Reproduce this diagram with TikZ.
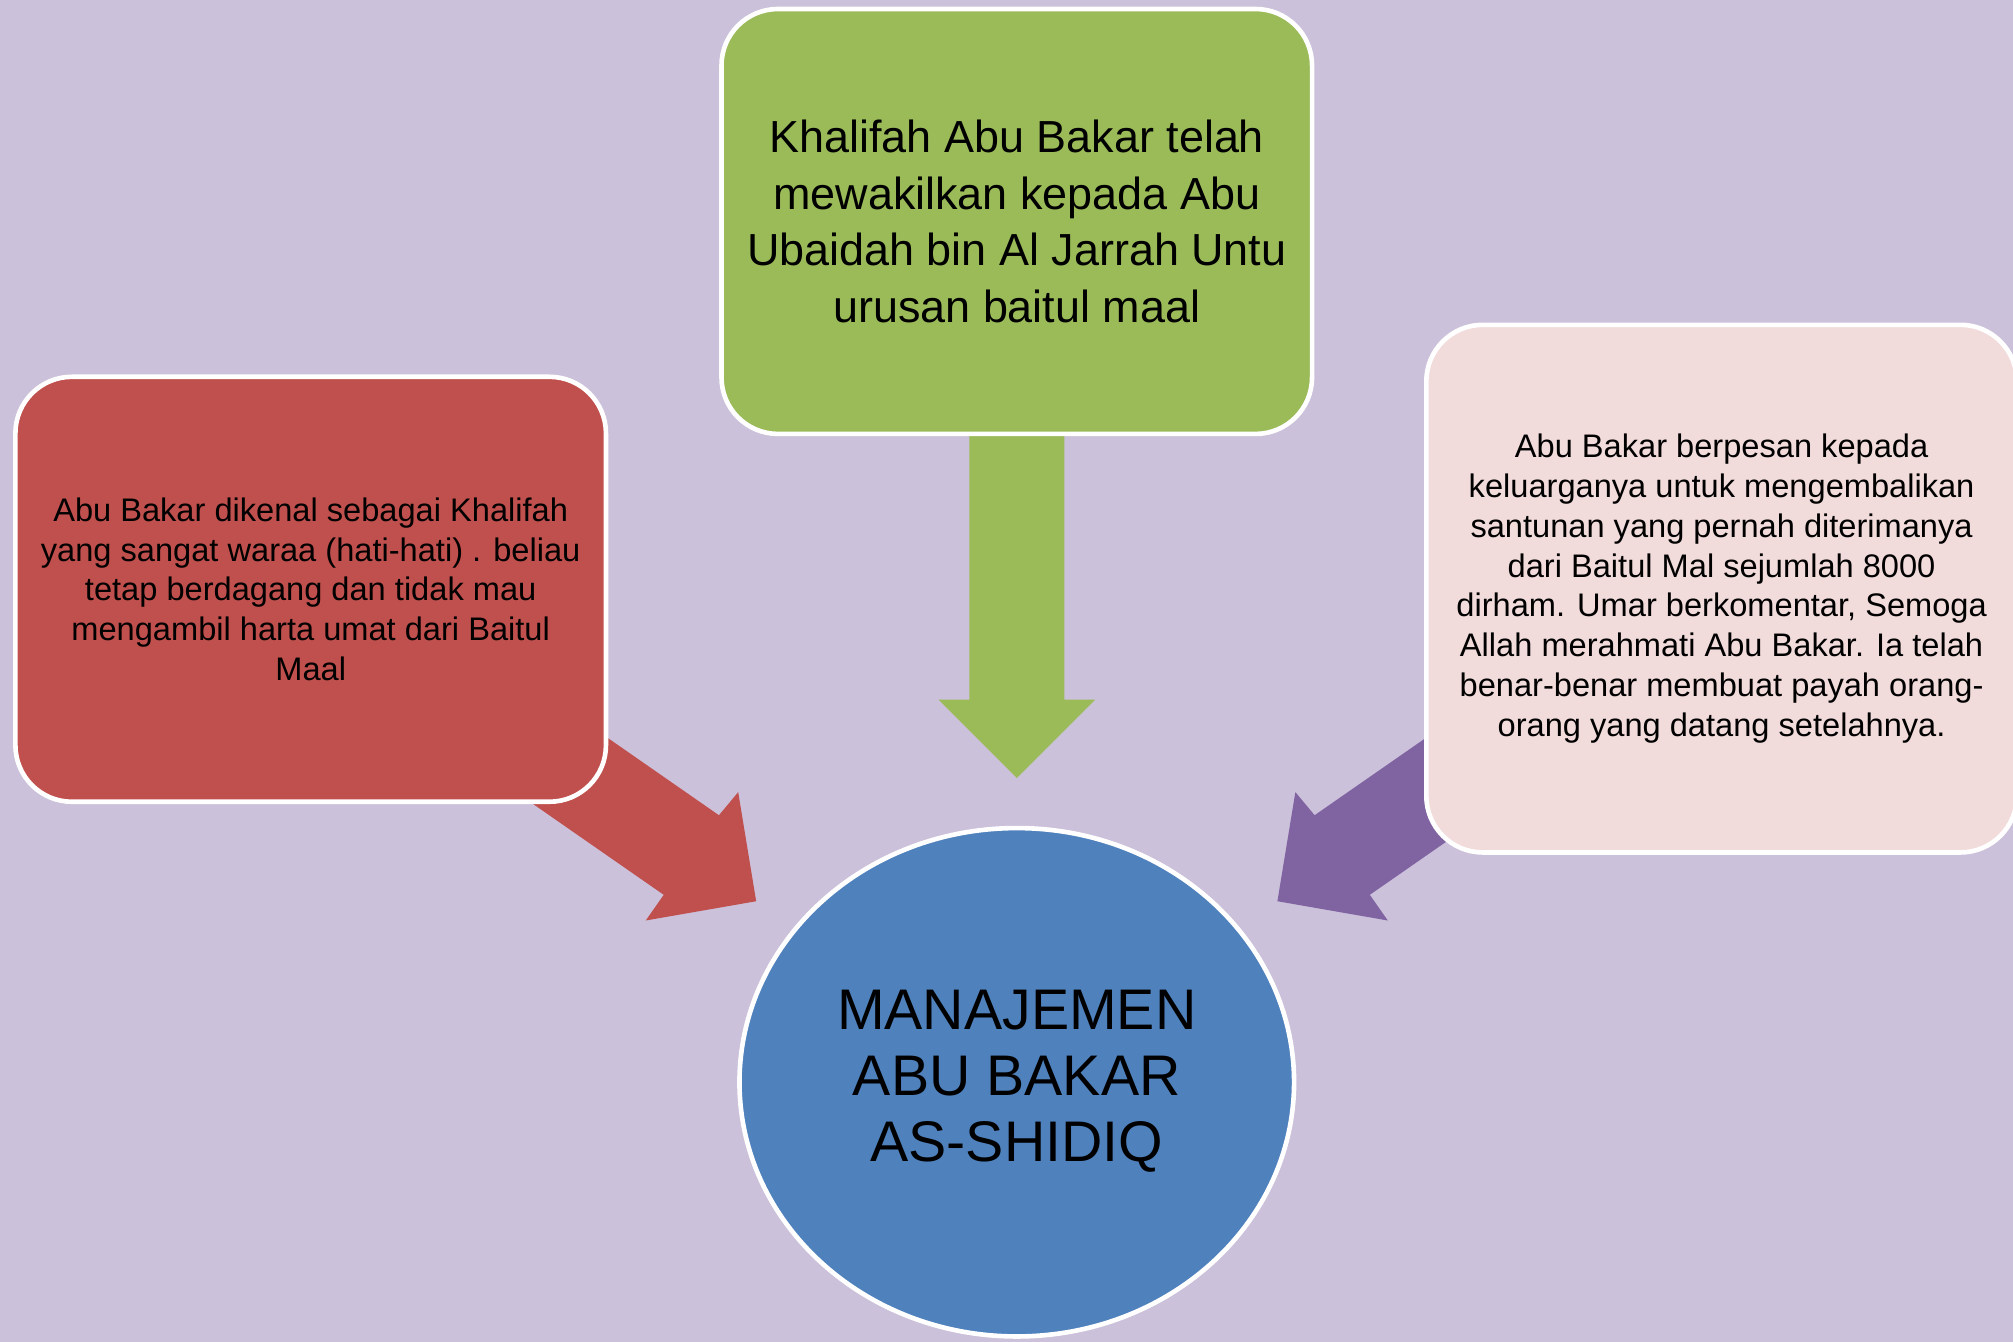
\documentclass[tikz,border=0pt]{standalone}
\usepackage{fontspec}
\setmainfont{Liberation Sans}
\usetikzlibrary{shapes.geometric}
\definecolor{bgcol}{RGB}{204,193,218}
\definecolor{greenbox}{RGB}{155,187,89}
\definecolor{redbox}{RGB}{192,80,77}
\definecolor{bluebox}{RGB}{79,129,189}
\definecolor{purplearrow}{RGB}{128,100,162}
\definecolor{pinkbox}{RGB}{242,220,219}
\tikzset{
  card/.style={draw=white, line width=1.8pt, rounded corners=22pt,
    minimum width=230pt, minimum height=165.5pt, align=center, inner sep=0pt, text=black},
  hub/.style={ellipse, draw=white, line width=1.8pt, fill=bluebox,
    minimum width=216pt, minimum height=198pt, inner sep=0pt, text=black},
  bigtext/.style={font=\fontsize{17.5}{22}\selectfont},
  smalltext/.style={font=\fontsize{12.7}{15.5}\selectfont},
  hubtext/.style={font=\fontsize{22.3}{25.75}\selectfont},
}
\begin{document}
\begin{tikzpicture}[x=0.5pt, y=-0.5pt]
  % canvas
  \fill[bgcol] (0,0) rectangle (1568,1045);
  \clip (0,0) rectangle (1568,1045);

  % block arrows (behind the cards)
  \fill[greenbox] (755,330) -- (829,330) -- (829,545) -- (853,545)
      -- (792,606) -- (731,545) -- (755,545) -- cycle;
  \fill[redbox] (396,521) -- (560,635) -- (575,617) -- (589,702)
      -- (503,717) -- (517,697) -- (353,583) -- cycle;
  \fill[purplearrow] (1188,521) -- (1024,635) -- (1009,617) -- (995,702)
      -- (1081,717) -- (1067,697) -- (1231,583) -- cycle;

  % cards
  \node[card, fill=greenbox, bigtext] (top) at (792,172.5)
    {Khalifah Abu Bakar telah\\ mewakilkan kepada Abu\\ Ubaidah bin Al Jarrah Untu\\ urusan baitul maal};
  \node[card, fill=redbox, smalltext] (left) at (242,459)
    {Abu Bakar dikenal sebagai Khalifah\\ yang sangat waraa (hati-hati) . beliau\\ tetap berdagang dan tidak mau\\ mengambil harta umat dari Baitul\\ Maal};
  \node[card, fill=pinkbox, smalltext, minimum height=205.5pt] (right) at (1341,458.5)
    {Abu Bakar berpesan kepada\\ keluarganya untuk mengembalikan\\ santunan yang pernah diterimanya\\ dari Baitul Mal sejumlah 8000\\ dirham. Umar berkomentar, Semoga\\ Allah merahmati Abu Bakar. Ia telah\\ benar-benar membuat payah orang-\\ orang yang datang setelahnya.};

  % centre
  \node[hub, hubtext] (hub) at (792,843)
    {\raisebox{-1.5pt}{\begin{tabular}{@{}c@{}}MANAJEMEN\\ ABU BAKAR\\ AS-SHIDIQ\end{tabular}}};
\end{tikzpicture}
\end{document}
